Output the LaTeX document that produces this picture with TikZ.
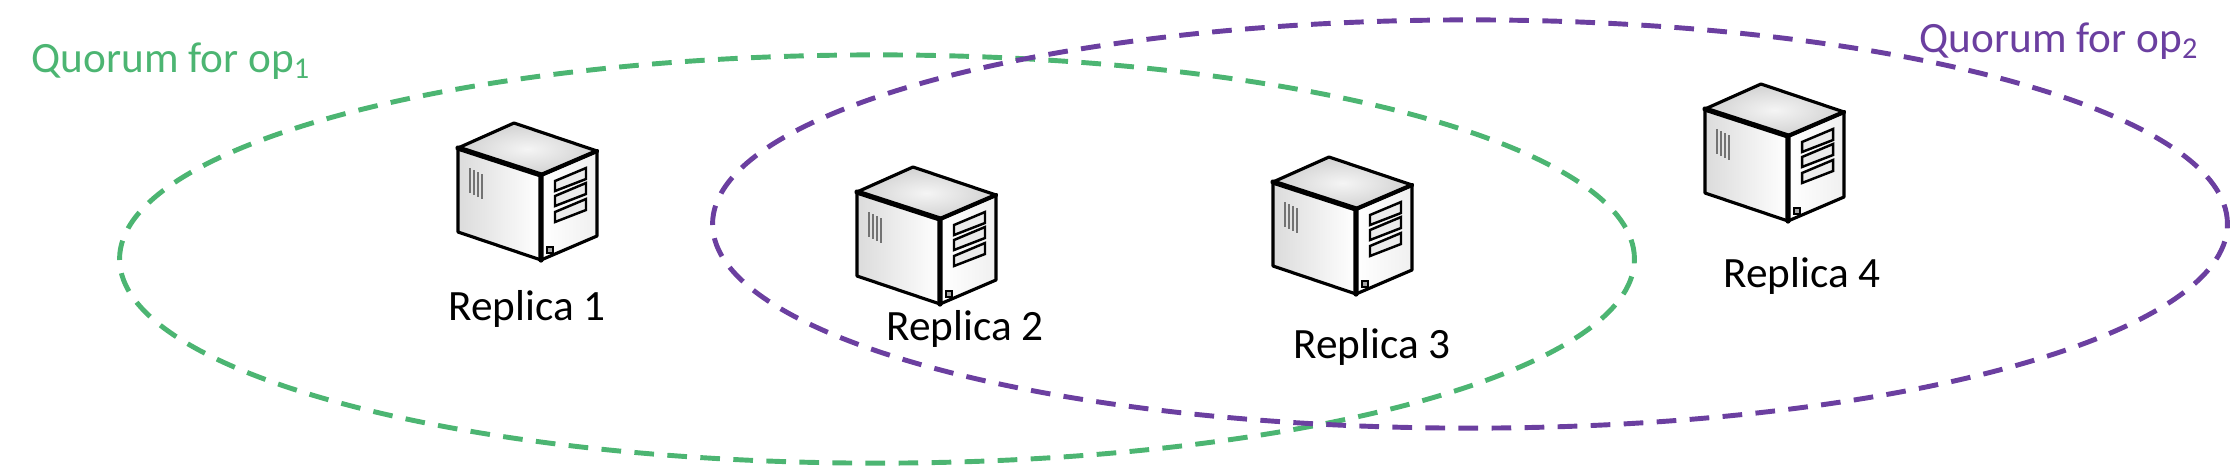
\documentclass[tikz,border=0pt]{standalone}
\usepackage{fontspec}
\setmainfont{Carlito}
\usetikzlibrary{shapes.geometric}

\definecolor{quorumgreen}{HTML}{4CB572}
\definecolor{quorumpurple}{HTML}{6B3FA0}

\tikzset{
    quorum/.style={ellipse, draw, dashed, line width=1.4pt, dash pattern=on 5.6pt off 3.8pt,
        minimum width=15.14cm, minimum height=4.08cm, inner sep=0pt},
    caption/.style={inner sep=0pt, font=\fontsize{12.3}{15}\selectfont},
    replicabox/.pic={
        \draw[line width=0.9pt, line join=round, left color=black!14, right color=white]
            (0,0) -- (83,27) -- (83,112) -- (0,84) -- cycle;
        \draw[line width=0.9pt, line join=round, left color=white, right color=black!6]
            (83,27) -- (139,3) -- (139,88) -- (83,112) -- cycle;
        \draw[line width=0.9pt, line join=round, inner color=black!4, outer color=black!18]
            (0,0) -- (56,-25) -- (139,3) -- (83,27) -- cycle;
        \draw[line width=1.5pt, line cap=round] (0,0) -- (83,27) -- (83,112);
        \draw[line width=1.2pt, line cap=round] (83,27) -- (139,3);
        \foreach \vx/\vy in {12/20, 16/22, 20/24, 24/26}
            \draw[line width=0.4pt, black!55] (\vx,\vy) -- (\vx,\vy+25);
        \foreach \sy in {0, 15, 31}
            \draw[line width=0.7pt, fill=black!8]
                (97,33+\sy) -- (128,20+\sy) -- (128,31+\sy) -- (97,43+\sy) -- cycle;
        \draw[line width=0.6pt, fill=black!35] (89,99) rectangle (95,105);
    }
}

\begin{document}
\begin{tikzpicture}[x=0.01cm, y=-0.01cm]
    \useasboundingbox (0,0) rectangle (2236,472);

    % quorums
    \node[quorum, quorumgreen]  (q1) at (877,259) {};
    \node[quorum, quorumpurple] (q2) at (1470,224) {};
    \node[caption, quorumgreen, anchor=base west]  (q1label) at (31,72) {Quorum for op\textsubscript{1}};
    \node[caption, quorumpurple, anchor=base west] (q2label) at (1919,52) {Quorum for op\textsubscript{2}};

    % replicas
    \pic (r1) at (458,148) {replicabox};
    \pic (r2) at (857,192) {replicabox};
    \pic (r3) at (1273,182) {replicabox};
    \pic (r4) at (1705,109) {replicabox};

    \node[caption] (r1label) at (527,309) {Replica 1};
    \node[caption] (r2label) at (965,329) {Replica 2};
    \node[caption] (r3label) at (1372,347) {Replica 3};
    \node[caption] (r4label) at (1802,276) {Replica 4};
\end{tikzpicture}
\end{document}
